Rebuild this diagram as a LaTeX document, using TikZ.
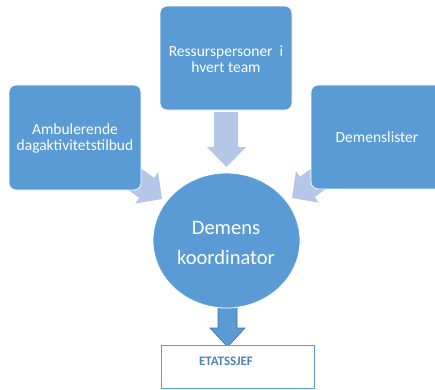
\documentclass[tikz,border=0pt]{standalone}
\usepackage{fontspec}
\setmainfont{Carlito}
\definecolor{boxblue}{HTML}{5B9BD5}
\definecolor{lightarrow}{HTML}{B4C7E7}
\definecolor{darkline}{HTML}{41719C}
\begin{document}
\begin{tikzpicture}[x=1pt,y=-1pt,
  blbox/.style={fill=boxblue,draw=white,line width=0.8pt,rounded corners=7pt},
  btext/.style={text=white,font=\fontsize{15.5}{16}\selectfont,align=center},
  lightarr/.style={fill=lightarrow,draw=none}]
\useasboundingbox (0,0) rectangle (435,389);
% light arrows (behind boxes)
\begin{scope}[shift={(162,199)},rotate=-36]
  \filldraw[lightarr] (0,0) -- (-19,19.5) -- (-19,12.5) -- (-53,12.5) -- (-53,-12.5) -- (-19,-12.5) -- (-19,-19.5) -- cycle;
\end{scope}
\begin{scope}[shift={(292,198)},rotate=-144]
  \filldraw[lightarr] (0,0) -- (-19,19.5) -- (-19,12.5) -- (-53,12.5) -- (-53,-12.5) -- (-19,-12.5) -- (-19,-19.5) -- cycle;
\end{scope}
\filldraw[lightarr] (226.5,167) -- (246,147) -- (238,147) -- (238,112) -- (214,112) -- (214,147) -- (207,147) -- cycle;
% boxes
\draw[blbox] (160,6) rectangle (292,110);
\draw[blbox] (9,85) rectangle (141,190);
\draw[blbox] (311,85) rectangle (443,189);
\node[btext] (top) at (226,59.5) {Ressurspersoner\ \ i\\hvert team};
\node[btext] (left) at (75,138.5) {Ambulerende\\dagaktivitetstilbud};
\node[btext] (right) at (377,137.5) {Demenslister};
% bottom arrow
\filldraw[fill=boxblue,draw=darkline,line width=0.6pt] (227.5,347) -- (245,328) -- (237,328) -- (237,305) -- (218,305) -- (218,328) -- (210,328) -- cycle;
% circle
\draw[fill=boxblue,draw=white,line width=0.8pt] (226.5,240.5) ellipse [x radius=73.5,y radius=67.5];
\node[text=white,font=\fontsize{20.5}{30}\selectfont,align=center] (coord) at (226,243) {Demens\\koordinator};
% etatssjef
\draw[draw=boxblue,fill=white,line width=1pt] (161,345) rectangle (314,388);
\node[text=boxblue!85!black,font=\fontsize{13}{15}\selectfont\bfseries] (etat) at (226,361) {ETATSSJEF};
\end{tikzpicture}
\end{document}
